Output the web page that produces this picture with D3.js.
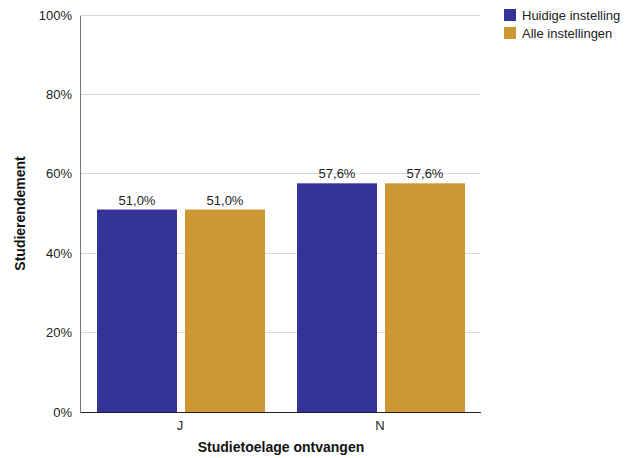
<!DOCTYPE html>
<html><head><meta charset="utf-8">
<script src="https://cdn.jsdelivr.net/npm/d3@7"></script>
<style>body{margin:0;background:#fff;}</style>
</head><body>
<svg id="c" width="644" height="458"></svg>
<script>
const categories = ["J", "N"];
const seriesNames = ["Huidige instelling", "Alle instellingen"];
const huidige = [51.0, 57.6];
const alle = [51.0, 57.6];
const yTicks = [0, 20, 40, 60, 80, 100];
const colors = ["#343397", "#CD9733"];

const svg = d3.select("#c");
const L = 80, R = 480, T = 15, B = 412;
const x0 = d3.scaleBand().domain(categories).range([L, R]).padding(0);
const x1 = d3.scaleBand().domain(seriesNames).range([17, 185]).paddingInner(8/88).paddingOuter(0);
const y = d3.scaleLinear().domain([0, 100]).range([B, T]);
const font = "'Liberation Sans', Arial, sans-serif";

// gridlines
svg.append("g").selectAll("line").data(yTicks.filter(d => d > 0)).join("line")
  .attr("x1", L).attr("x2", R).attr("y1", d => y(d)).attr("y2", d => y(d))
  .attr("stroke", "#d9d9d9").attr("stroke-width", 1).attr("shape-rendering", "crispEdges");

// y axis
const yAxis = svg.append("g").attr("transform", `translate(${L},0)`)
  .call(d3.axisLeft(y).tickValues(yTicks).tickSize(0).tickPadding(8).tickFormat(d => d + "%"));
yAxis.select(".domain").attr("stroke", "#777").attr("shape-rendering", "crispEdges");
yAxis.selectAll("text").attr("font-size", 13).attr("font-family", font).attr("fill", "#222");

// bars
const data = categories.map((c, i) => ({cat: c, vals: [huidige[i], alle[i]]}));
const g = svg.append("g");
data.forEach(d => {
  d.vals.forEach((v, j) => {
    const xx = x0(d.cat) + x1(seriesNames[j]);
    g.append("rect").attr("x", xx).attr("y", y(v)).attr("width", x1.bandwidth())
      .attr("height", B - y(v)).attr("fill", colors[j]);
    g.append("text").attr("x", xx + x1.bandwidth() / 2).attr("y", y(v) - 5)
      .attr("text-anchor", "middle").attr("font-size", 13).attr("font-family", font).attr("fill", "#222")
      .text(v.toFixed(1).replace(".", ",") + "%");
  });
});

// x axis
const xAxis = svg.append("g").attr("transform", `translate(0,${B})`)
  .call(d3.axisBottom(x0).tickSize(0).tickPadding(9));
xAxis.select(".domain").attr("stroke", "#222").attr("shape-rendering", "crispEdges");
xAxis.selectAll("text").attr("font-size", 13).attr("font-family", font).attr("fill", "#222");

// titles
svg.append("text").attr("x", 281).attr("y", 452).attr("text-anchor", "middle")
  .attr("font-size", 14).attr("font-weight", "bold").attr("font-family", font).attr("fill", "#111")
  .text("Studietoelage ontvangen");
svg.append("text").attr("transform", `translate(25,${(T + B) / 2}) rotate(-90)`).attr("text-anchor", "middle")
  .attr("font-size", 14).attr("font-weight", "bold").attr("font-family", font).attr("fill", "#111")
  .text("Studierendement");

// legend
const lg = svg.append("g").attr("transform", "translate(504,9)");
seriesNames.forEach((s, i) => {
  lg.append("rect").attr("x", 0).attr("y", i * 18).attr("width", 12).attr("height", 12).attr("fill", colors[i]);
  lg.append("text").attr("x", 18).attr("y", i * 18 + 11).attr("font-size", 13).attr("font-family", font)
    .attr("fill", "#222").text(s);
});
</script>
</body></html>
